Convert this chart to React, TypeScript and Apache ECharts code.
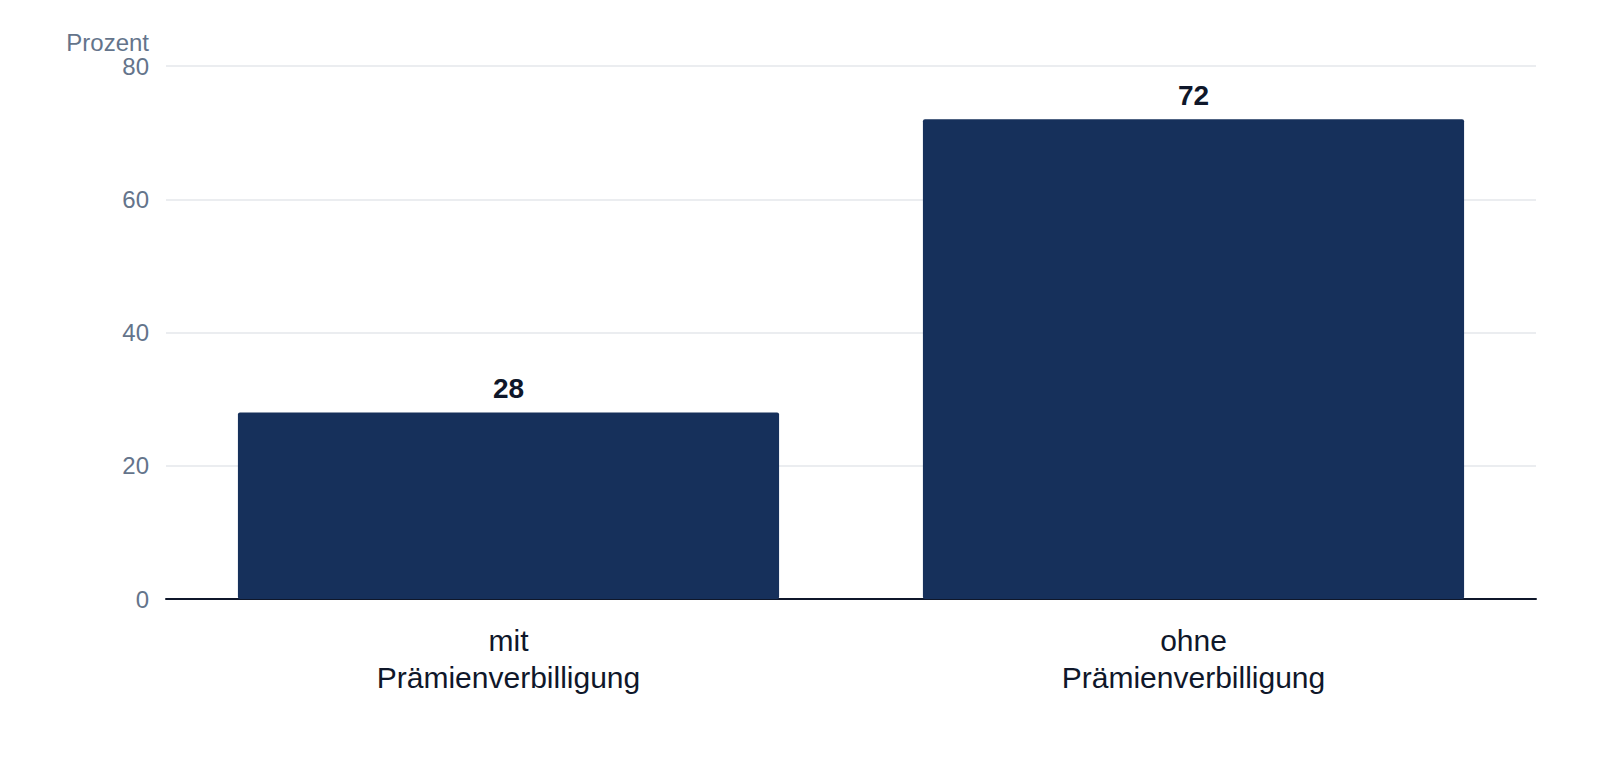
import React, { useEffect, useRef } from "react";
import * as echarts from "echarts";

const categories = ["mit\nPrämienverbilligung", "ohne\nPrämienverbilligung"];
const values = [28, 72];
const yTicks = { min: 0, max: 80, interval: 20 };
const yName = "Prozent";

const App: React.FC = () => {
  const chartRef = useRef<HTMLDivElement>(null);

  useEffect(() => {
    if (!chartRef.current) return;
    const chart = echarts.init(chartRef.current, null, { renderer: "svg" });

    const font = "'Liberation Sans', Arial, Helvetica, sans-serif";

    chart.setOption({
      animation: false,
      textStyle: { fontFamily: font },
      grid: { left: 166, right: 64, top: 66, bottom: 161 },
      xAxis: {
        type: "category",
        data: categories,
        axisTick: { show: false },
        axisLine: { lineStyle: { color: "#0f172a", width: 2 } },
        axisLabel: {
          color: "#0f172a",
          fontSize: 30,
          lineHeight: 37,
          margin: 23,
          fontFamily: font,
        },
      },
      yAxis: {
        type: "value",
        min: yTicks.min,
        max: yTicks.max,
        interval: yTicks.interval,
        name: yName,
        nameLocation: "end",
        nameGap: 9,
        nameTextStyle: {
          color: "#64748b",
          fontSize: 24,
          align: "right",
          padding: [0, 17, 0, 0],
          fontFamily: font,
        },
        axisLabel: {
          color: "#64748b",
          fontSize: 24,
          margin: 17,
          fontFamily: font,
        },
        splitLine: { lineStyle: { color: "#e5e7eb", width: 1.5 } },
      },
      series: [
        {
          type: "bar",
          data: values,
          barWidth: "79%",
          itemStyle: { color: "#16305b", borderRadius: 2 },
          label: {
            show: true,
            position: "top",
            distance: 10,
            color: "#0f172a",
            fontSize: 28,
            fontWeight: "bold",
            fontFamily: font,
          },
        },
      ],
    });

    return () => {
      chart.dispose();
    };
  }, []);

  return (
    <div
      ref={chartRef}
      style={{ position: "absolute", left: 0, top: 0, width: 1600, height: 760, background: "#fff" }}
    />
  );
};

export default App;
